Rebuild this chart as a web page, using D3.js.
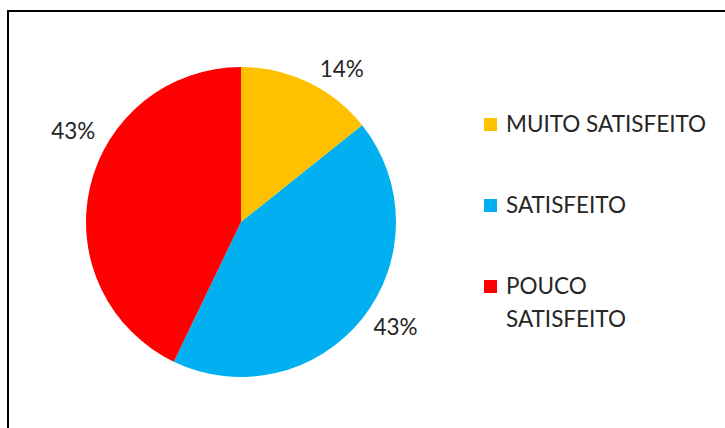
<!DOCTYPE html>
<html><head><meta charset="utf-8">
<script src="https://cdn.jsdelivr.net/npm/d3@7"></script>
<style>html,body{margin:0;padding:0;background:#fff;}svg{display:block;}</style>
</head><body>
<script>
const categories = ["MUITO SATISFEITO", "SATISFEITO", "POUCO SATISFEITO"];
const values = [1, 3, 3];
const colors = ["#FFC000", "#00B0F0", "#FF0000"];
const legendLines = [["MUITO SATISFEITO"], ["SATISFEITO"], ["POUCO", "SATISFEITO"]];

const W = 725, H = 428;
const font = "Lato, 'Open Sans', sans-serif";
const svg = d3.select("body").append("svg").attr("width", W).attr("height", H);

// frame
svg.append("rect").attr("x", 8).attr("y", 11).attr("width", W + 20).attr("height", H + 20)
  .attr("fill", "#fff").attr("stroke", "#000").attr("stroke-width", 2);

const cx = 241, cy = 222, R = 155;
const total = d3.sum(values);
const pie = d3.pie().sort(null).value(d => d)(values);
const arc = d3.arc().innerRadius(0).outerRadius(R);
const g = svg.append("g").attr("transform", `translate(${cx},${cy})`);
g.selectAll("path").data(pie).join("path")
  .attr("d", arc).attr("fill", (d, i) => colors[i]);

// labels (outside end, Excel-like placement)
const labelArc = d3.arc().innerRadius(172).outerRadius(172);
const nudge = [[4, 2], [-2, -2], [22, -53]];
const fmt = d3.format(".0%");
g.selectAll("text.lbl").data(pie).join("text").attr("class", "lbl")
  .attr("transform", (d, i) => {
    const [x, y] = labelArc.centroid(d);
    return `translate(${x + nudge[i][0]},${y + nudge[i][1]})`;
  })
  .attr("text-anchor", d => ((d.startAngle + d.endAngle) / 2 > Math.PI ? "end" : "start"))
  .attr("dy", "0.35em")
  .attr("font-family", font).attr("font-size", 22.5).attr("fill", "#262626")
  .text(d => fmt(d.data / total));

// legend
const lx = 484, ly0 = 118;
const rowY = [0, 81, 162];
const lg = svg.append("g");
categories.forEach((c, i) => {
  const y = ly0 + rowY[i];
  lg.append("rect").attr("x", lx).attr("y", y).attr("width", 13).attr("height", 13).attr("fill", colors[i]);
  const t = lg.append("text").attr("x", lx + 22).attr("y", y + 14)
    .attr("font-family", font).attr("font-size", 22.5).attr("fill", "#262626");
  legendLines[i].forEach((ln, j) => {
    t.append("tspan").attr("x", lx + 22).attr("dy", j === 0 ? 0 : 33).text(ln);
  });
});
</script>
</body></html>
